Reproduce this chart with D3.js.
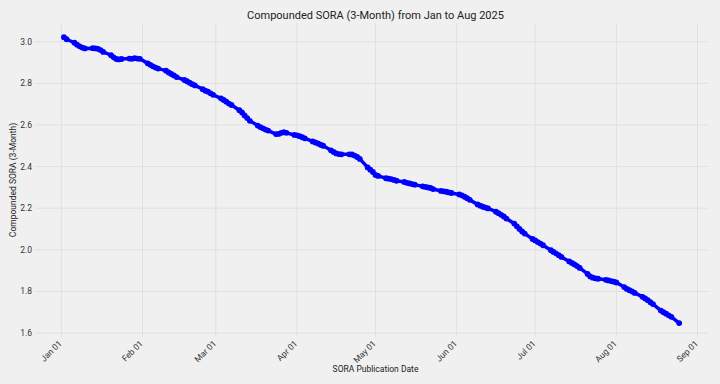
<!DOCTYPE html>
<html>
<head>
<meta charset="utf-8">
<script src="https://cdn.jsdelivr.net/npm/d3@7"></script>
<style>
  html, body { margin: 0; padding: 0; background: #f0f0f0; }
  body { font-family: Roboto, "Open Sans", sans-serif; }
  .tick-label { font-size: 8.5px; fill: #333; }
  .axis-title { font-size: 8.5px; fill: #222; }
</style>
</head>
<body>
<div id="chart"></div>
<script>
// first publication day and the compounded rate for each business day after it
const startDate = "2025-01-02";
const endDate = "2025-08-25";
const soraValues = [
    3.022, 3.012,
    2.995, 2.986, 2.978, 2.972, 2.968,
    2.969, 2.968, 2.966, 2.960, 2.951,
    2.935, 2.925, 2.917, 2.915, 2.917,
    2.919, 2.918, 2.921, 2.919, 2.918,
    2.896, 2.889, 2.882, 2.876, 2.871,
    2.861, 2.852, 2.845, 2.838, 2.830,
    2.816, 2.810, 2.803, 2.796, 2.790,
    2.772, 2.765, 2.760, 2.752, 2.745,
    2.728, 2.720, 2.712, 2.703, 2.696,
    2.671, 2.660, 2.646, 2.633, 2.620,
    2.597, 2.590, 2.584, 2.578, 2.573,
    2.556, 2.557, 2.562, 2.565, 2.562,
    2.552, 2.550, 2.546, 2.541, 2.536,
    2.521, 2.516, 2.511, 2.505, 2.500,
    2.478, 2.470, 2.463, 2.460, 2.459,
    2.459, 2.458, 2.453, 2.446, 2.437,
    2.396, 2.385, 2.374, 2.360, 2.355,
    2.344, 2.342, 2.340, 2.336, 2.332,
    2.326, 2.322, 2.319, 2.316, 2.313,
    2.305, 2.302, 2.300, 2.297, 2.292,
    2.283, 2.281, 2.279, 2.276, 2.273,
    2.266, 2.262, 2.255, 2.248, 2.240,
    2.218, 2.212, 2.207, 2.203, 2.199,
    2.183, 2.176, 2.168, 2.160, 2.150,
    2.126, 2.113, 2.100, 2.088, 2.078,
    2.052, 2.045, 2.037, 2.030, 2.022,
    1.998, 1.990, 1.982, 1.974, 1.966,
    1.944, 1.937, 1.930, 1.922, 1.913,
    1.884, 1.872, 1.866, 1.863, 1.861,
    1.856, 1.853, 1.850, 1.847, 1.843,
    1.821, 1.812, 1.806, 1.800, 1.793,
    1.774, 1.766, 1.758, 1.748, 1.739,
    1.708, 1.700, 1.693, 1.685, 1.678,
    1.648
];
const yTicks = [1.6, 1.8, 2.0, 2.2, 2.4, 2.6, 2.8, 3.0];
const xTickMonths = ["2025-01-01", "2025-02-01", "2025-03-01", "2025-04-01", "2025-05-01",
    "2025-06-01", "2025-07-01", "2025-08-01", "2025-09-01"];

const parseDate = d3.timeParse("%Y-%m-%d");
// business days (Mon-Fri) between start and end
const pubDates = d3.timeDay.range(parseDate(startDate), d3.timeDay.offset(parseDate(endDate), 1))
    .filter(d => d.getDay() !== 0 && d.getDay() !== 6);
const data = pubDates.map((d, i) => ({ date: d, value: soraValues[i] }));

const W = 720, H = 384;
const plot = { left: 43, right: 708, top: 23, bottom: 337 };

const svg = d3.select("#chart").append("svg")
    .attr("width", W)
    .attr("height", H);

svg.append("rect")
    .attr("width", W)
    .attr("height", H)
    .attr("fill", "#f0f0f0");

const xScale = d3.scaleTime()
    .domain([parseDate("2024-12-25"), parseDate("2025-09-05")])
    .range([plot.left, plot.right]);

const yScale = d3.scaleLinear()
    .domain([1.581, 3.09])
    .range([plot.bottom, plot.top]);

// gridlines
svg.selectAll(".hgrid")
    .data(yTicks)
    .enter()
    .append("line")
    .attr("x1", plot.left - 8)
    .attr("x2", plot.right)
    .attr("y1", d => yScale(d))
    .attr("y2", d => yScale(d))
    .attr("stroke", "#e0e0e0")
    .attr("stroke-width", 1);

svg.selectAll(".vgrid")
    .data(xTickMonths.map(parseDate))
    .enter()
    .append("line")
    .attr("x1", d => xScale(d))
    .attr("x2", d => xScale(d))
    .attr("y1", plot.top)
    .attr("y2", plot.bottom)
    .attr("stroke", "#e0e0e0")
    .attr("stroke-width", 1);

// y tick labels
svg.selectAll(".ylab")
    .data(yTicks)
    .enter()
    .append("text")
    .attr("class", "tick-label")
    .attr("x", 32)
    .attr("y", d => yScale(d))
    .attr("dy", "0.35em")
    .attr("text-anchor", "end")
    .text(d3.format(".1f"));

// x tick labels, rotated
const fmt = d3.timeFormat("%b %d");
svg.selectAll(".xlab")
    .data(xTickMonths.map(parseDate))
    .enter()
    .append("text")
    .attr("class", "tick-label")
    .attr("text-anchor", "end")
    .attr("transform", d => `translate(${xScale(d) + 1},${plot.bottom + 7}) rotate(-45)`)
    .text(fmt);

// line + markers
const line = d3.line()
    .x(d => xScale(d.date))
    .y(d => yScale(d.value));

svg.append("path")
    .datum(data)
    .attr("d", line)
    .attr("fill", "none")
    .attr("stroke", "#0000ff")
    .attr("stroke-width", 3.5)
    .attr("stroke-linejoin", "round");

svg.selectAll(".pt")
    .data(data)
    .enter()
    .append("circle")
    .attr("cx", d => xScale(d.date))
    .attr("cy", d => yScale(d.value))
    .attr("r", 2.9)
    .attr("fill", "#0000ff");

// titles
svg.append("text")
    .attr("x", (plot.left + plot.right) / 2)
    .attr("y", 19)
    .attr("text-anchor", "middle")
    .style("font-size", "11px")
    .attr("fill", "#222")
    .text("Compounded SORA (3-Month) from Jan to Aug 2025");

svg.append("text")
    .attr("class", "axis-title")
    .attr("x", (plot.left + plot.right) / 2)
    .attr("y", 372)
    .attr("text-anchor", "middle")
    .text("SORA Publication Date");

svg.append("text")
    .attr("class", "axis-title")
    .attr("transform", `translate(16,${(plot.top + plot.bottom) / 2}) rotate(-90)`)
    .attr("text-anchor", "middle")
    .text("Compounded SORA (3-Month)");
</script>
</body>
</html>
